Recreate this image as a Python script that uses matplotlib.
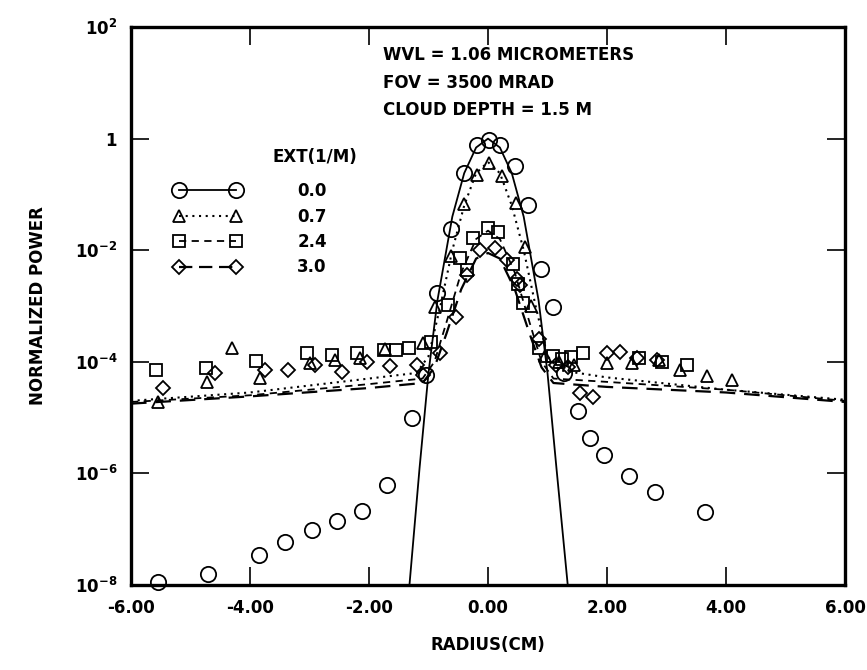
import numpy as np
import matplotlib
matplotlib.use("Agg")
import matplotlib.pyplot as plt
from matplotlib.lines import Line2D

# ---------------- data (log10 of normalized power) ----------------
# EXT = 0.0 (circles)
c_x = [-5.55, -4.70, -3.85, -3.42, -2.96, -2.54, -2.12, -1.69, -1.27, -1.05,
       -0.85, -0.62, -0.41, -0.18, 0.01, 0.21, 0.46, 0.67, 0.89, 1.09, 1.27,
       1.51, 1.71, 1.95, 2.37, 2.80, 3.64]
c_y = [-7.95, -7.80, -7.46, -7.23, -7.01, -6.85, -6.67, -6.21, -5.01, -4.24,
       -2.77, -1.62, -0.62, -0.11, -0.03, -0.11, -0.49, -1.19, -2.34, -3.02,
       -4.20, -4.88, -5.37, -5.67, -6.05, -6.33, -6.69]
# EXT = 0.7 (triangles)
t_x = [-5.54, -4.72, -4.30, -3.84, -2.99, -2.57, -2.15, -1.73, -1.09, -0.89,
       -0.63, -0.41, -0.18, 0.01, 0.24, 0.47, 0.63, 0.72, 0.95, 1.20, 1.45,
       2.00, 2.42, 2.87, 3.23, 3.68, 4.10]
t_y = [-4.72, -4.36, -3.75, -4.29, -4.02, -3.97, -3.93, -3.77, -3.66, -3.02,
       -2.10, -1.17, -0.65, -0.44, -0.67, -1.15, -1.95, -3.00, -3.90, -4.00,
       -4.05, -4.02, -4.02, -3.97, -4.15, -4.25, -4.33]
# EXT = 2.4 (squares)
s_x = [-5.58, -4.74, -3.90, -3.04, -2.62, -2.20, -1.74, -1.54, -1.32, -0.95,
       -0.67, -0.47, -0.35, -0.25, 0.00, 0.17, 0.42, 0.50, 0.59, 0.85, 1.10,
       1.25, 1.40, 1.60, 2.53, 2.92, 3.34]
s_y = [-4.15, -4.11, -3.99, -3.85, -3.88, -3.85, -3.78, -3.79, -3.76, -3.65,
       -2.98, -2.14, -2.35, -1.78, -1.60, -1.67, -2.25, -2.60, -2.95, -3.75,
       -3.90, -3.95, -3.92, -3.85, -3.93, -4.00, -4.06]
# EXT = 3.0 (diamonds)
d_x = [-5.47, -4.59, -3.75, -3.36, -2.91, -2.45, -2.03, -1.65, -1.19, -1.09,
       -0.80, -0.54, -0.35, -0.13, 0.12, 0.32, 0.49, 0.54, 0.85, 1.15, 1.35,
       1.55, 1.77, 2.00, 2.22, 2.50, 2.84]
d_y = [-4.47, -4.20, -4.15, -4.15, -4.06, -4.18, -4.00, -4.08, -4.06, -4.24,
       -3.85, -3.20, -2.44, -2.00, -1.96, -2.18, -2.52, -2.62, -3.60, -4.05,
       -4.10, -4.56, -4.63, -3.85, -3.82, -3.93, -3.97]

# model curves
l0_x = [-1.42, -1.32, -1.15, -1.00, -0.85, -0.60, -0.40, -0.20, 0.00,
        0.20, 0.40, 0.60, 0.85, 1.00, 1.15, 1.34, 1.44]
l0_y = [-9.2, -8.0, -5.9, -4.2, -2.9, -1.4, -0.62, -0.16, 0.0,
        -0.16, -0.62, -1.4, -2.9, -4.2, -5.9, -8.0, -9.2]
l1_x = [-6.0, -4.0, -2.0, -1.2, -1.0, -0.8, -0.6, -0.4, -0.2, 0.0,
        0.2, 0.4, 0.6, 0.8, 1.0, 1.2, 2.0, 4.0, 6.0]
l1_y = [-4.70, -4.55, -4.30, -4.20, -3.90, -3.00, -2.00, -1.20, -0.62, -0.42,
        -0.62, -1.20, -2.00, -3.00, -3.90, -4.15, -4.28, -4.50, -4.68]
l2_x = [-6.0, -4.0, -2.0, -1.1, -0.9, -0.7, -0.45, -0.2, 0.0,
        0.2, 0.45, 0.7, 0.9, 1.1, 2.0, 4.0, 6.0]
l2_y = [-4.72, -4.60, -4.40, -4.30, -4.00, -3.30, -2.40, -1.80, -1.65,
        -1.80, -2.40, -3.30, -4.00, -4.30, -4.36, -4.50, -4.70]
l3_x = [-6.0, -4.0, -2.0, -1.1, -0.9, -0.7, -0.45, -0.2, 0.0,
        0.2, 0.45, 0.7, 0.9, 1.1, 2.0, 4.0, 6.0]
l3_y = [-4.75, -4.62, -4.47, -4.38, -4.10, -3.50, -2.70, -2.15, -2.05,
        -2.15, -2.70, -3.50, -4.10, -4.38, -4.45, -4.55, -4.72]

ext_labels = ["0.0", "0.7", "2.4", "3.0"]
x_ticks = [-6, -4, -2, 0, 2, 4, 6]
x_tick_labels = ["-6.00", "-4.00", "-2.00", "0.00", "2.00", "4.00", "6.00"]
y_ticks = [1e-8, 1e-6, 1e-4, 1e-2, 1, 1e2]
y_tick_labels = [r"$\mathbf{10^{-8}}$", r"$\mathbf{10^{-6}}$", r"$\mathbf{10^{-4}}$",
                 r"$\mathbf{10^{-2}}$", r"$\mathbf{1}$", r"$\mathbf{10^{2}}$"]
info_lines = ["WVL = 1.06 MICROMETERS", "FOV = 3500 MRAD", "CLOUD DEPTH = 1.5 M"]

# ---------------- figure ----------------
plt.rcParams['font.family'] = ['DejaVu Sans']
fig = plt.figure(figsize=(8.67, 6.70), dpi=100)
ax = fig.add_axes([131/867, 85/670, 714/867, 558/670])
ax.set_yscale('log')
ax.set_xlim(-6, 6)
ax.set_ylim(1e-8, 1e2)

p = lambda v: 10.0 ** np.asarray(v)
lw = 1.3
ax.plot(l0_x, p(l0_y), '-', color='black', lw=lw)
ax.plot(l1_x, p(l1_y), color='black', lw=lw + 0.2, linestyle=(0, (1, 2.2)))
ax.plot(l2_x, p(l2_y), color='black', lw=lw, linestyle=(0, (4, 3)))
ax.plot(l3_x, p(l3_y), color='black', lw=lw + 0.3, linestyle=(0, (7, 4)))

mk = dict(linestyle='none', markerfacecolor='none', markeredgecolor='black',
          markeredgewidth=1.3, clip_on=False)
ax.plot(c_x, p(c_y), marker='o', markersize=11, **mk)
ax.plot(t_x, p(t_y), marker='^', markersize=9, **mk)
ax.plot(s_x, p(s_y), marker='s', markersize=8.5, **mk)
ax.plot(d_x, p(d_y), marker='D', markersize=7.5, **mk)

# ticks
ax.set_xticks(x_ticks)
ax.set_xticklabels(x_tick_labels, fontsize=12, fontweight='bold')
ax.set_yticks(y_ticks)
ax.set_yticklabels(y_tick_labels, fontsize=12)
ax.minorticks_off()
ax.tick_params(axis='both', which='major', direction='in', length=13, width=1.2,
               top=True, right=True, pad=10)
for s in ax.spines.values():
    s.set_linewidth(2.4)

ax.set_xlabel("RADIUS(CM)", fontsize=12, fontweight='bold', labelpad=14)
ax.set_ylabel("NORMALIZED POWER", fontsize=12, fontweight='bold', labelpad=20)

# info text
for i, t in enumerate(info_lines):
    ax.text((383 - 131) / 714, (585 - 55 - 27.5 * i) / 558, t, transform=ax.transAxes,
            fontsize=12, fontweight='bold', va='center', ha='left')

# legend
handles = [
    Line2D([], [], color='black', lw=lw, linestyle='-', marker='o', markersize=11,
           markerfacecolor='none', markeredgewidth=1.3),
    Line2D([], [], color='black', lw=lw + 0.2, linestyle=(0, (1, 2.2)), marker='^',
           markersize=9, markerfacecolor='none', markeredgewidth=1.3),
    Line2D([], [], color='black', lw=lw, linestyle=(0, (4, 3)), marker='s',
           markersize=8.5, markerfacecolor='none', markeredgewidth=1.3),
    Line2D([], [], color='black', lw=lw + 0.3, linestyle=(0, (6, 3)), marker='D',
           markersize=7.5, markerfacecolor='none', markeredgewidth=1.3),
]
leg = ax.legend(handles, ext_labels, numpoints=2, frameon=False,
                loc='upper left', bbox_to_anchor=((174 - 131) / 714, (585 - 182) / 558),
                prop={'weight': 'bold', 'size': 12}, handlelength=4.0,
                handletextpad=3.4, labelspacing=0.45, borderpad=0, borderaxespad=0)
ax.text((273 - 131) / 714, (585 - 157) / 558, "EXT(1/M)", transform=ax.transAxes,
        fontsize=12, fontweight='bold', va='center', ha='left')

fig.savefig("out.png", dpi=100)
